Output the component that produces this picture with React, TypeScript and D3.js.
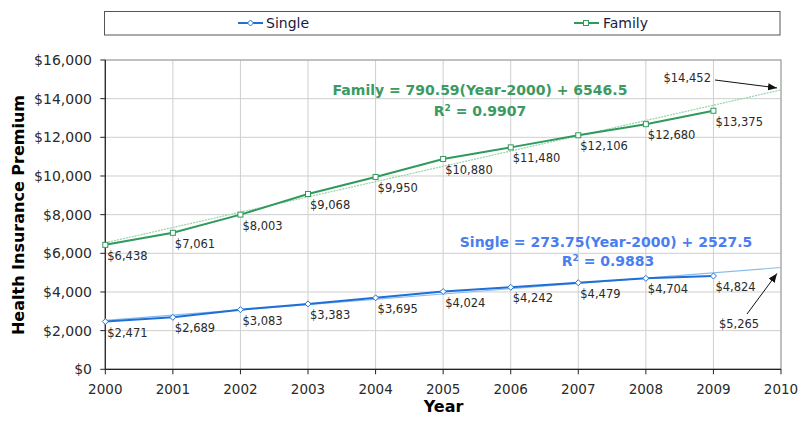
import React from "react";
import * as d3 from "d3";

const years = [2000, 2001, 2002, 2003, 2004, 2005, 2006, 2007, 2008, 2009];
const singleValues = [2471, 2689, 3083, 3383, 3695, 4024, 4242, 4479, 4704, 4824];
const familyValues = [6438, 7061, 8003, 9068, 9950, 10880, 11480, 12106, 12680, 13375];
const yTicks = [0, 2000, 4000, 6000, 8000, 10000, 12000, 14000, 16000];
const xTicks = [2000, 2001, 2002, 2003, 2004, 2005, 2006, 2007, 2008, 2009, 2010];
const singleTrend = { slope: 273.75, intercept: 2527.5, r2: "0.9883" };
const familyTrend = { slope: 790.59, intercept: 6546.5, r2: "0.9907" };

const W = 802;
const H = 423;
const FONT = "'DejaVu Sans', Verdana, sans-serif";
const SINGLE = "#1f6fd6";
const FAMILY = "#2f9a5c";
const SINGLE_T = "#8cbcec";
const FAMILY_T = "#94d3aa";
const TXT = "#2a2a2a";

export default function App() {
  const x = d3.scaleLinear().domain([2000, 2010]).range([105.3, 781]);
  const y = d3.scaleLinear().domain([0, 16000]).range([369.3, 60]);
  const fmt = (v: number) => "$" + d3.format(",")(v);
  const line = d3
    .line<[number, number]>()
    .x((d) => x(d[0]))
    .y((d) => y(d[1]));
  const sPts: [number, number][] = years.map((yr, i) => [yr, singleValues[i]]);
  const fPts: [number, number][] = years.map((yr, i) => [yr, familyValues[i]]);
  const trend = (t: { slope: number; intercept: number }): [number, number][] => [
    [2000, t.intercept],
    [2010, t.intercept + t.slope * 10],
  ];
  const s2010 = singleTrend.intercept + singleTrend.slope * 10;
  const f2010 = familyTrend.intercept + familyTrend.slope * 10;
  const x0 = x.range()[0];
  const x1 = x.range()[1];
  const yTop = y.range()[1];
  const yBot = y.range()[0];

  return (
    <svg width={W} height={H} style={{ position: "absolute", left: 0, top: 0 }} fontFamily={FONT}>
      <defs>
        <marker id="arr" viewBox="0 0 10 10" refX="10" refY="5" markerWidth="9" markerHeight="9" orient="auto" markerUnits="userSpaceOnUse">
          <path d="M0,1 L10,5 L0,9 z" fill="#111" />
        </marker>
      </defs>
      <rect x={0} y={0} width={W} height={H} fill="#fff" />
      {/* legend */}
      <rect x={104.5} y={11.5} width={675.5} height={23.5} fill="#fff" stroke="#555" strokeWidth={1} />
      <line x1={238} x2={263} y1={23} y2={23} stroke={SINGLE} strokeWidth={2} />
      <path d={`M${250.5},20 L${253.5},23 L${250.5},26 L${247.5},23 Z`} fill="#fff" stroke={SINGLE} strokeWidth={1} />
      <text x={266} y={28} fontSize={14} fill="#1a1a40">Single</text>
      <line x1={574} x2={599} y1={23} y2={23} stroke={FAMILY} strokeWidth={2} />
      <rect x={583.5} y={20.5} width={5} height={5} fill="#fff" stroke={FAMILY} strokeWidth={1} />
      <text x={603} y={28} fontSize={14} fill="#1a1a40">Family</text>

      {/* grid */}
      {yTicks.map((t) => (
        <line key={"gy" + t} x1={x0} x2={x1} y1={y(t)} y2={y(t)} stroke="#cfcfcf" strokeWidth={1} />
      ))}
      {xTicks.map((t) => (
        <line key={"gx" + t} x1={x(t)} x2={x(t)} y1={yTop} y2={yBot} stroke="#cfcfcf" strokeWidth={1} />
      ))}
      <rect x={x0} y={yTop} width={x1 - x0} height={yBot - yTop} fill="none" stroke="#999" strokeWidth={1} />
      {/* axes */}
      <line x1={x0} x2={x0} y1={yTop} y2={yBot} stroke="#222" strokeWidth={1.2} />
      <line x1={x0} x2={x1} y1={yBot} y2={yBot} stroke="#222" strokeWidth={1.2} />
      {yTicks.map((t) => (
        <g key={"ty" + t}>
          <line x1={x0 - 5} x2={x0} y1={y(t)} y2={y(t)} stroke="#222" />
          <text x={92} y={y(t) + 5} fontSize={14} textAnchor="end" fill={TXT}>
            {fmt(t)}
          </text>
        </g>
      ))}
      {xTicks.map((t) => (
        <g key={"tx" + t}>
          <line x1={x(t)} x2={x(t)} y1={yBot} y2={yBot + 5} stroke="#222" />
          <text x={x(t)} y={394} fontSize={13.5} textAnchor="middle" fill={TXT}>
            {t}
          </text>
        </g>
      ))}
      <text x={443.5} y={412} fontSize={16} fontWeight="bold" textAnchor="middle" fill="#000">Year</text>
      <text transform="translate(24,215) rotate(-90)" fontSize={16} fontWeight="bold" textAnchor="middle" fill="#000">
        Health Insurance Premium
      </text>

      {/* trend lines */}
      <path d={line(trend(familyTrend)) || ""} fill="none" stroke={FAMILY_T} strokeWidth={1.2} strokeDasharray="2,1" />
      <path d={line(trend(singleTrend)) || ""} fill="none" stroke={SINGLE_T} strokeWidth={1.2} />

      {/* series */}
      <path d={line(fPts) || ""} fill="none" stroke={FAMILY} strokeWidth={2} />
      <path d={line(sPts) || ""} fill="none" stroke={SINGLE} strokeWidth={2} />
      {fPts.map((p) => (
        <rect key={"fm" + p[0]} x={x(p[0]) - 2.5} y={y(p[1]) - 2.5} width={5} height={5} fill="#fff" stroke={FAMILY} strokeWidth={1} />
      ))}
      {sPts.map((p) => (
        <path key={"sm" + p[0]} d={`M${x(p[0])},${y(p[1]) - 3} L${x(p[0]) + 3},${y(p[1])} L${x(p[0])},${y(p[1]) + 3} L${x(p[0]) - 3},${y(p[1])} Z`} fill="#fff" stroke={SINGLE} strokeWidth={1} />
      ))}
      {fPts.map((p) => (
        <text key={"fl" + p[0]} x={x(p[0]) + 2} y={y(p[1]) + 15} fontSize={11.5} fill={TXT}>
          {fmt(p[1])}
        </text>
      ))}
      {sPts.map((p) => (
        <text key={"sl" + p[0]} x={x(p[0]) + 2} y={y(p[1]) + 15} fontSize={11.5} fill={TXT}>
          {fmt(p[1])}
        </text>
      ))}

      {/* equations */}
      <text x={480} y={95} fontSize={14} fontWeight="bold" textAnchor="middle" fill="#3a9a62">
        {`Family = ${familyTrend.slope}(Year-2000) + ${familyTrend.intercept}`}
      </text>
      <text x={480} y={116} fontSize={14} fontWeight="bold" textAnchor="middle" fill="#3a9a62">
        R<tspan dy={-5} fontSize={9}>2</tspan>
        <tspan dy={5}>{` = ${familyTrend.r2}`}</tspan>
      </text>
      <text x={606} y={247} fontSize={14} fontWeight="bold" textAnchor="middle" fill="#4a7ef0">
        {`Single = ${singleTrend.slope}(Year-2000) + ${singleTrend.intercept}`}
      </text>
      <text x={608} y={266} fontSize={14} fontWeight="bold" textAnchor="middle" fill="#4a7ef0">
        R<tspan dy={-5} fontSize={9}>2</tspan>
        <tspan dy={5}>{` = ${singleTrend.r2}`}</tspan>
      </text>

      {/* annotations */}
      <text x={711} y={82} fontSize={11.5} textAnchor="end" fill={TXT}>{fmt(Math.round(f2010))}</text>
      <line x1={715} y1={80} x2={777} y2={y(f2010) - 2} stroke="#111" strokeWidth={1} markerEnd="url(#arr)" />
      <text x={739} y={328} fontSize={11.5} textAnchor="middle" fill={TXT}>{fmt(Math.round(s2010))}</text>
      <line x1={747} y1={314} x2={777} y2={y(s2010) + 6} stroke="#111" strokeWidth={1} markerEnd="url(#arr)" />
    </svg>
  );
}
